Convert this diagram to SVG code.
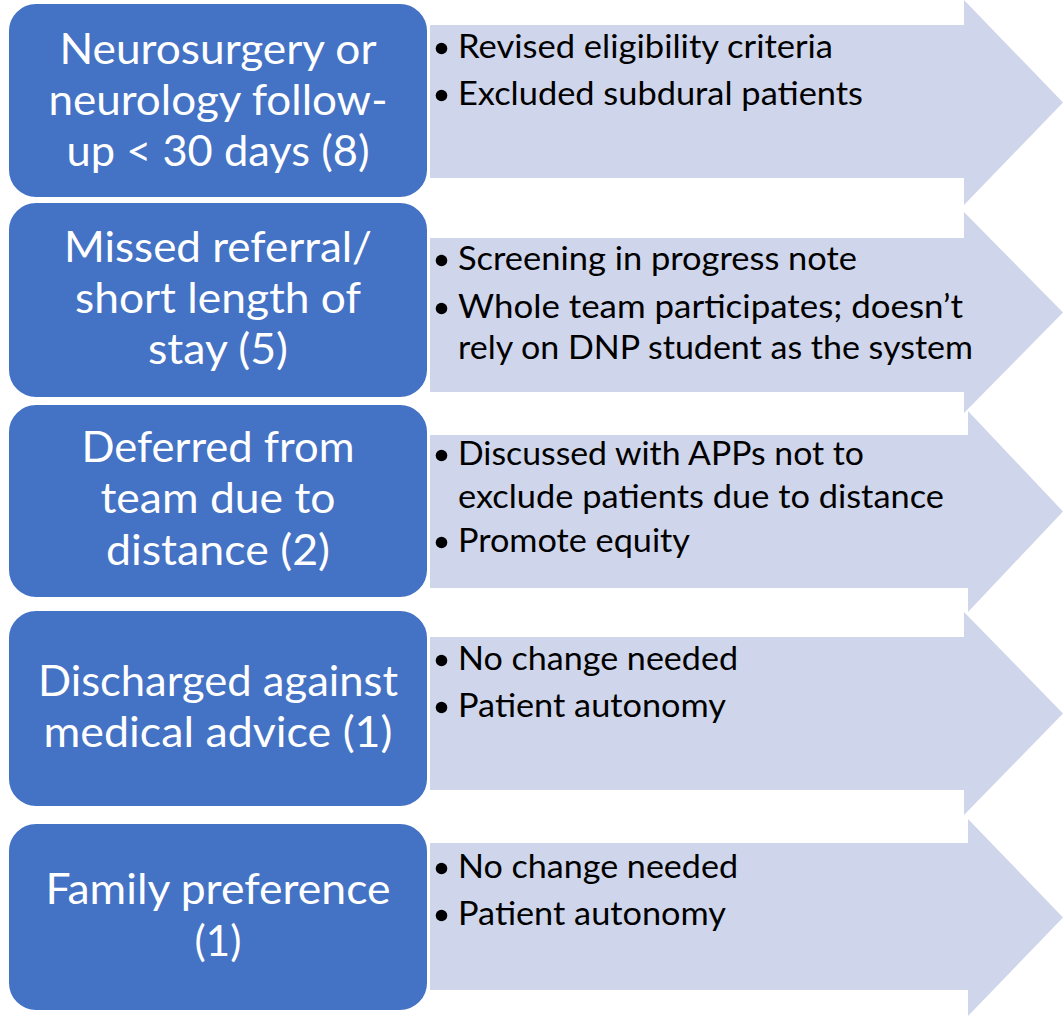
<svg xmlns="http://www.w3.org/2000/svg" width="1063" height="1016" viewBox="0 0 1063 1016">
  <style>
    .arrow { fill: #CFD5EA; }
    .box { fill: #4472C4; stroke: #FFFFFF; stroke-width: 2; }
    .label { font-family: "Lato", "Liberation Sans", sans-serif; font-size: 42px; fill: #FFFFFF; text-anchor: middle; }
    .item { font-family: "Lato", "Liberation Sans", sans-serif; font-size: 33px; fill: #000000; }
    .dot { fill: #000000; }
  </style>

  <!-- background arrows carrying the action items -->
  <g id="connectors">
    <polygon class="arrow" points="430,25 964,25 964,0 1063,102.5 964,205 964,178 430,178"/>
    <polygon class="arrow" points="430,238 964,238 964,212 1063,312.5 964,413 964,392 430,392"/>
    <polygon class="arrow" points="430,435 968,435 968,411 1063,511.5 968,612 968,588 430,588"/>
    <polygon class="arrow" points="430,637 964,637 964,612 1063,713.5 964,815 964,790 430,790"/>
    <polygon class="arrow" points="430,843 968,843 968,819 1063,917.5 968,1016 968,990 430,990"/>
  </g>

  <!-- row 1 -->
  <g id="node-followup">
    <rect class="box" x="8" y="3" width="420" height="195" rx="28" ry="28"/>
    <text class="label" x="218" y="64" textLength="317" lengthAdjust="spacingAndGlyphs">Neurosurgery or</text>
    <text class="label" x="218" y="115" textLength="339" lengthAdjust="spacingAndGlyphs">neurology follow-</text>
    <text class="label" x="218" y="166" textLength="303" lengthAdjust="spacingAndGlyphs">up &lt; 30 days (8)</text>
  </g>
  <g id="actions-followup">
    <circle class="dot" cx="441.5" cy="48.5" r="5.8"/>
    <text class="item" x="458" y="58" textLength="375" lengthAdjust="spacingAndGlyphs">Revised eligibility criteria</text>
    <circle class="dot" cx="441.5" cy="95.5" r="5.8"/>
    <text class="item" x="458" y="105" textLength="405" lengthAdjust="spacingAndGlyphs">Excluded subdural patients</text>
  </g>

  <!-- row 2 -->
  <g id="node-missed-referral">
    <rect class="box" x="8" y="202" width="420" height="196" rx="28" ry="28"/>
    <text class="label" x="218" y="262" textLength="308" lengthAdjust="spacingAndGlyphs">Missed referral/</text>
    <text class="label" x="218" y="313" textLength="286" lengthAdjust="spacingAndGlyphs">short length of</text>
    <text class="label" x="218" y="364" textLength="140" lengthAdjust="spacingAndGlyphs">stay (5)</text>
  </g>
  <g id="actions-missed-referral">
    <circle class="dot" cx="441.5" cy="260.5" r="5.8"/>
    <text class="item" x="458" y="270" textLength="399" lengthAdjust="spacingAndGlyphs">Screening in progress note</text>
    <circle class="dot" cx="441.5" cy="308.5" r="5.8"/>
    <text class="item" x="458" y="318" textLength="505" lengthAdjust="spacingAndGlyphs">Whole team participates; doesn’t</text>
    <text class="item" x="458" y="359" textLength="515" lengthAdjust="spacingAndGlyphs">rely on DNP student as the system</text>
  </g>

  <!-- row 3 -->
  <g id="node-deferred">
    <rect class="box" x="8" y="404" width="420" height="194" rx="28" ry="28"/>
    <text class="label" x="218" y="462" textLength="273" lengthAdjust="spacingAndGlyphs">Deferred from</text>
    <text class="label" x="218" y="513" textLength="235" lengthAdjust="spacingAndGlyphs">team due to</text>
    <text class="label" x="218" y="565" textLength="224" lengthAdjust="spacingAndGlyphs">distance (2)</text>
  </g>
  <g id="actions-deferred">
    <circle class="dot" cx="441.5" cy="455.5" r="5.8"/>
    <text class="item" x="458" y="465" textLength="406" lengthAdjust="spacingAndGlyphs">Discussed with APPs not to</text>
    <text class="item" x="458" y="508" textLength="486" lengthAdjust="spacingAndGlyphs">exclude patients due to distance</text>
    <circle class="dot" cx="441.5" cy="542.5" r="5.8"/>
    <text class="item" x="458" y="552" textLength="232" lengthAdjust="spacingAndGlyphs">Promote equity</text>
  </g>

  <!-- row 4 -->
  <g id="node-ama">
    <rect class="box" x="8" y="610" width="420" height="197" rx="28" ry="28"/>
    <text class="label" x="218" y="696" textLength="360" lengthAdjust="spacingAndGlyphs">Discharged against</text>
    <text class="label" x="218" y="747" textLength="349" lengthAdjust="spacingAndGlyphs">medical advice (1)</text>
  </g>
  <g id="actions-ama">
    <circle class="dot" cx="441.5" cy="660.5" r="5.8"/>
    <text class="item" x="458" y="670" textLength="280" lengthAdjust="spacingAndGlyphs">No change needed</text>
    <circle class="dot" cx="441.5" cy="707.5" r="5.8"/>
    <text class="item" x="458" y="717" textLength="268" lengthAdjust="spacingAndGlyphs">Patient autonomy</text>
  </g>

  <!-- row 5 -->
  <g id="node-family">
    <rect class="box" x="8" y="823" width="420" height="188" rx="28" ry="28"/>
    <text class="label" x="218" y="904" textLength="345" lengthAdjust="spacingAndGlyphs">Family preference</text>
    <text class="label" x="218" y="956">(1)</text>
  </g>
  <g id="actions-family">
    <circle class="dot" cx="441.5" cy="868.5" r="5.8"/>
    <text class="item" x="458" y="878" textLength="280" lengthAdjust="spacingAndGlyphs">No change needed</text>
    <circle class="dot" cx="441.5" cy="915.5" r="5.8"/>
    <text class="item" x="458" y="925" textLength="268" lengthAdjust="spacingAndGlyphs">Patient autonomy</text>
  </g>
</svg>
